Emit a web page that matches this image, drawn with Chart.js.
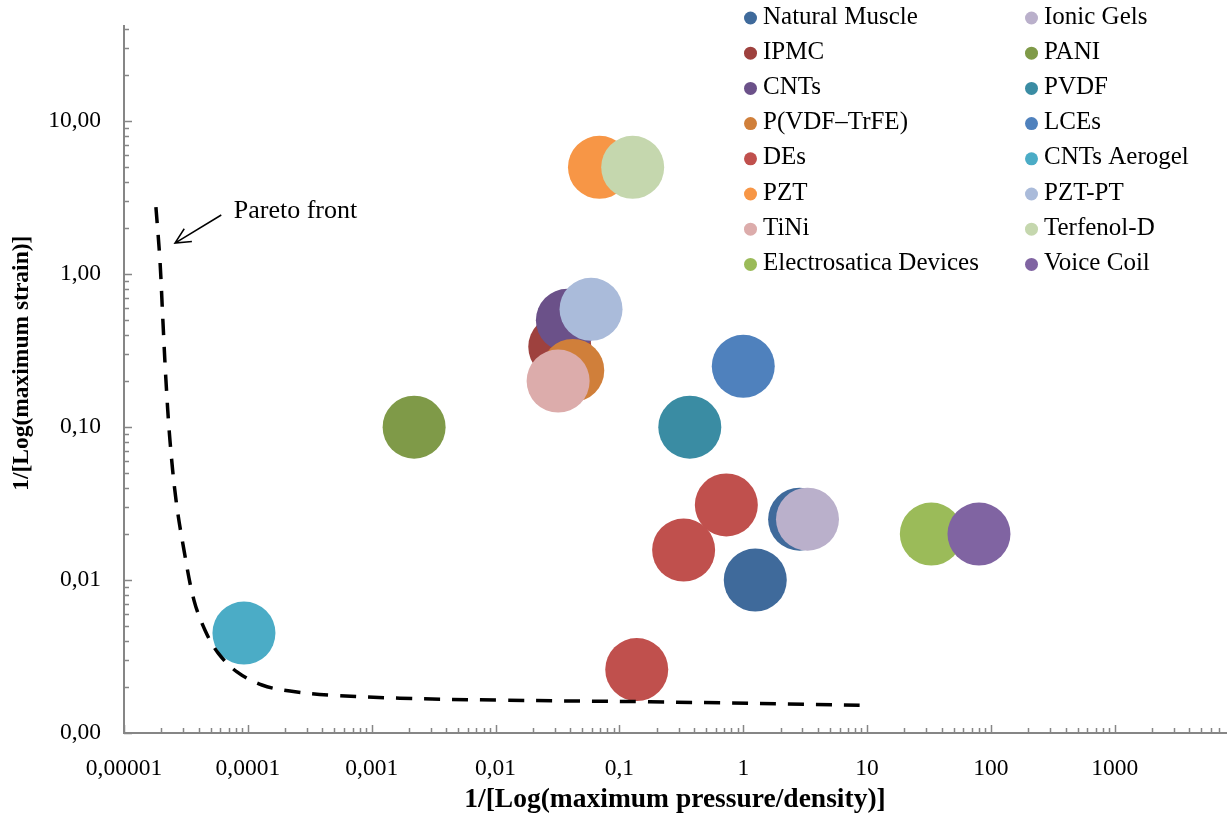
<!DOCTYPE html>
<html>
<head>
<meta charset="utf-8">
<script src="https://cdn.jsdelivr.net/npm/chart.js@4.4.1/dist/chart.umd.min.js"></script>
<style>
  html, body { margin: 0; padding: 0; background: #ffffff; overflow: hidden; }
  #wrap { width: 1228px; height: 819px; }
</style>
</head>
<body>
<div id="wrap"><canvas id="chart" width="1228" height="819"></canvas></div>
<script>
// Actuator families, in legend order (row by row, two columns)
const seriesNames = [
  'Natural Muscle', 'Ionic Gels',
  'IPMC', 'PANI',
  'CNTs', 'PVDF',
  'P(VDF\u2013TrFE)', 'LCEs',
  'DEs', 'CNTs Aerogel',
  'PZT', 'PZT-PT',
  'TiNi', 'Terfenol-D',
  'Electrosatica Devices', 'Voice Coil'
];
const seriesColors = [
  '#3F6A9B', '#BAB0CB',
  '#9E413E', '#7F9A48',
  '#6B5189', '#3A8CA3',
  '#D07F3A', '#4F81BD',
  '#C0504D', '#4BACC6',
  '#F79646', '#AABBDA',
  '#DCACAB', '#C5D7AE',
  '#9BBB59', '#8064A2'
];
// 1/[Log(maximum pressure/density)] per family
const pressureValues = [
  [1.25, 2.85], [3.3],
  [0.033], [0.0022],
  [0.038], [0.37],
  [0.042], [1.0],
  [0.73, 0.33, 0.138], [0.000093],
  [0.069], [0.059],
  [0.032], [0.128],
  [33], [80]
];
// 1/[Log(maximum strain)] per family
const strainValues = [
  [0.01, 0.025], [0.025],
  [0.335], [0.1],
  [0.5], [0.1],
  [0.235], [0.25],
  [0.031, 0.0157, 0.0026], [0.0045],
  [5.0], [0.59],
  [0.2], [5.0],
  [0.02], [0.02]
];

// Pareto front (dashed curve)
const paretoX = [1.81e-5, 1.95e-5, 2.06e-5, 2.18e-5, 2.35e-5, 2.63e-5, 3.05e-5, 3.67e-5,
                 4.51e-5, 5.74e-5, 8.17e-5, 1.30e-4, 2.19e-4, 4.60e-4, 1.69e-3, 1.08e-2, 0.176, 8.7];
const paretoY = [2.75, 1.24, 0.50, 0.204, 0.082, 0.0334, 0.0157, 0.0074,
                 0.0047, 0.00334, 0.00251, 0.00206, 0.00188, 0.00177, 0.00169, 0.00164, 0.0016, 0.00152];

// Axis ticks
const xTickValues = [0.00001, 0.0001, 0.001, 0.01, 0.1, 1, 10, 100, 1000];
const xTickLabels = ['0,00001', '0,0001', '0,001', '0,01', '0,1', '1', '10', '100', '1000'];
const yTickValues = [0.001, 0.01, 0.1, 1, 10];
const yTickLabels = ['0,00', '0,01', '0,10', '1,00', '10,00'];

// Axis titles
const xTitle = '1/[Log(maximum pressure/density)]';
const yTitle = '1/[Log(maximum strain)]';

// "Pareto front" label and arrow, in data space
const paretoNote = { text: 'Pareto front', textX: 7.7e-5, textY: 2.6, tailX: 6.1e-5, tailY: 2.44, tipX: 2.58e-5, tipY: 1.6 };

const FONT = '"Liberation Serif", "Times New Roman", serif';
const AXIS_GREY = '#868686';

const datasets = seriesNames.map((name, i) => ({
  label: name,
  data: pressureValues[i].map((x, k) => ({ x: x, y: strainValues[i][k] })),
  backgroundColor: seriesColors[i],
  borderWidth: 0,
  pointRadius: 31.5,
  pointHoverRadius: 31.5,
  order: seriesNames.length - i   // later families are drawn on top
}));
datasets.push({
  label: 'Pareto front',
  data: paretoX.map((x, k) => ({ x: x, y: paretoY[k] })),
  showLine: true,
  borderColor: '#000000',
  borderWidth: 3.5,
  borderDash: [16, 12],
  pointRadius: 0,
  tension: 0.35,
  fill: false,
  order: -1
});

// Inward tick marks on both log axes
const tickMarks = {
  id: 'tickMarks',
  afterDatasetsDraw(chart) {
    const ctx = chart.ctx;
    const { left, bottom } = chart.chartArea;
    ctx.save();
    ctx.strokeStyle = AXIS_GREY;
    ctx.lineWidth = 1.5;
    const each = (scale, cb) => {
      const lo = Math.floor(Math.log10(scale.min));
      const hi = Math.ceil(Math.log10(scale.max));
      for (let e = lo; e <= hi; e++) {
        for (let m = 1; m <= 9; m++) {
          const v = m * Math.pow(10, e);
          if (v < scale.min * 0.999 || v > scale.max * 1.001) continue;
          cb(scale.getPixelForValue(v), m === 1);
        }
      }
    };
    each(chart.scales.x, (px, major) => {
      ctx.beginPath();
      ctx.moveTo(Math.round(px) + 0.5, bottom);
      ctx.lineTo(Math.round(px) + 0.5, bottom - (major ? 8 : 5));
      ctx.stroke();
    });
    each(chart.scales.y, (py, major) => {
      ctx.beginPath();
      ctx.moveTo(left, Math.round(py) + 0.5);
      ctx.lineTo(left + (major ? 8 : 5), Math.round(py) + 0.5);
      ctx.stroke();
    });
    ctx.restore();
  }
};

// Rotated title for the strain axis, sitting a little above the axis midpoint
const strainTitle = {
  id: 'strainTitle',
  afterDraw(chart, args, opts) {
    const ctx = chart.ctx, area = chart.chartArea;
    const cy = area.top + (area.bottom - area.top) * opts.along;
    ctx.save();
    ctx.translate(opts.x, cy);
    ctx.rotate(-Math.PI / 2);
    ctx.font = 'bold ' + opts.size + 'px ' + FONT;
    ctx.fillStyle = '#000000';
    ctx.textAlign = 'center';
    ctx.textBaseline = 'middle';
    ctx.fillText(yTitle, 0, 0);
    ctx.restore();
  }
};

// Two-column legend in the upper right of the plot
const twoColumnLegend = {
  id: 'twoColumnLegend',
  afterDraw(chart, args, opts) {
    const ctx = chart.ctx;
    ctx.save();
    ctx.font = opts.fontSize + 'px ' + FONT;
    ctx.textBaseline = 'middle';
    ctx.textAlign = 'left';
    seriesNames.forEach((name, i) => {
      const col = i % 2, row = Math.floor(i / 2);
      const cx = opts.columns[col];
      const cy = opts.top + row * opts.rowGap;
      ctx.fillStyle = seriesColors[i];
      ctx.beginPath();
      ctx.arc(cx, cy, opts.dot, 0, Math.PI * 2);
      ctx.fill();
      ctx.fillStyle = '#000000';
      ctx.fillText(name, cx + opts.textGap, cy - 1);
    });
    ctx.restore();
  }
};

// Text and arrow pointing at the Pareto front
const paretoLabel = {
  id: 'paretoLabel',
  afterDraw(chart) {
    const ctx = chart.ctx, xs = chart.scales.x, ys = chart.scales.y;
    const tx = xs.getPixelForValue(paretoNote.textX), ty = ys.getPixelForValue(paretoNote.textY);
    const ax = xs.getPixelForValue(paretoNote.tailX), ay = ys.getPixelForValue(paretoNote.tailY);
    const bx = xs.getPixelForValue(paretoNote.tipX), by = ys.getPixelForValue(paretoNote.tipY);
    ctx.save();
    ctx.fillStyle = '#000000';
    ctx.font = '26px ' + FONT;
    ctx.textBaseline = 'middle';
    ctx.textAlign = 'left';
    ctx.fillText(paretoNote.text, tx, ty);
    ctx.strokeStyle = '#000000';
    ctx.lineWidth = 1.5;
    ctx.beginPath();
    ctx.moveTo(ax, ay);
    ctx.lineTo(bx, by);
    const ang = Math.atan2(by - ay, bx - ax);
    const len = 17, spread = 0.45;
    ctx.moveTo(bx - len * Math.cos(ang - spread), by - len * Math.sin(ang - spread));
    ctx.lineTo(bx, by);
    ctx.lineTo(bx - len * Math.cos(ang + spread), by - len * Math.sin(ang + spread));
    ctx.stroke();
    ctx.restore();
  }
};

new Chart(document.getElementById('chart'), {
  type: 'scatter',
  data: { datasets: datasets },
  options: {
    responsive: false,
    devicePixelRatio: 1,
    animation: false,
    events: [],
    layout: { autoPadding: false, padding: { left: 0, right: 2, top: 26, bottom: 0 } },
    plugins: {
      legend: { display: false },
      tooltip: { enabled: false },
      twoColumnLegend: { columns: [750.5, 1031.5], top: 18, rowGap: 35.2, dot: 6.5, textGap: 12.5, fontSize: 25 },
      strainTitle: { x: 22, along: 0.477, size: 23.5 }
    },
    scales: {
      x: {
        type: 'logarithmic',
        position: 'bottom',
        min: 0.00001,
        max: 7900,
        grid: { display: false, drawTicks: false },
        border: { display: true, color: AXIS_GREY, width: 2 },
        afterBuildTicks: (s) => { s.ticks = xTickValues.map(v => ({ value: v })); },
        afterFit: (s) => { s.height = 86; s.paddingLeft = 0; s.paddingRight = 0; },
        ticks: {
          autoSkip: false, maxRotation: 0, minRotation: 0, padding: 22,
          color: '#000000', font: { family: FONT, size: 23.5 },
          callback: (v, i) => xTickLabels[i]
        },
        title: {
          display: true, text: xTitle, color: '#000000',
          font: { family: FONT, size: 27.5, weight: 'bold' }, padding: { top: 0, bottom: 3 }
        }
      },
      y: {
        type: 'logarithmic',
        position: 'left',
        min: 0.001,
        max: 42,
        grid: { display: false, drawTicks: false },
        border: { display: true, color: AXIS_GREY, width: 2 },
        afterBuildTicks: (s) => { s.ticks = yTickValues.map(v => ({ value: v })); },
        afterFit: (s) => { s.width = 124; s.paddingTop = 0; s.paddingBottom = 0; },
        ticks: {
          autoSkip: false, padding: 23,
          color: '#000000', font: { family: FONT, size: 23.5 },
          callback: (v, i) => yTickLabels[i]
        },
        title: { display: false }
      }
    }
  },
  plugins: [tickMarks, strainTitle, twoColumnLegend, paretoLabel]
});
</script>
</body>
</html>
